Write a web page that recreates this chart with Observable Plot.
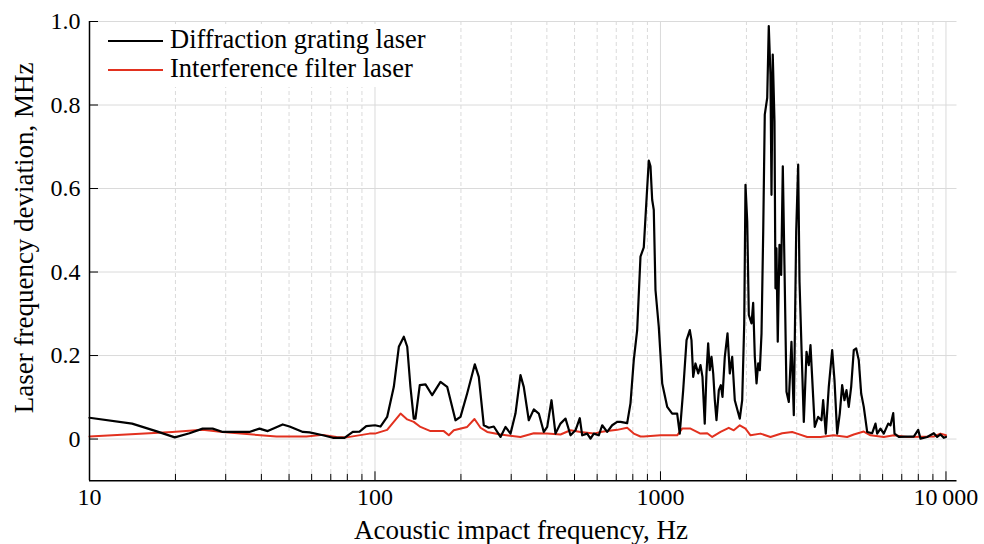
<!DOCTYPE html>
<html>
<head>
<meta charset="utf-8">
<script src="https://cdn.jsdelivr.net/npm/d3@7"></script>
<script src="https://cdn.jsdelivr.net/npm/@observablehq/plot@0.6"></script>
<style>
  body { margin: 0; background: #fff; }
  #wrap { position: relative; width: 984px; height: 544px; font-family: "Liberation Serif", "Times New Roman", serif; }
  #chart svg, #chart svg text { font-family: "Liberation Serif", "Times New Roman", serif !important; }
  #legend { position: absolute; left: 92px; top: 24px; width: 342px; height: 63px; background: #fff; }
  #legend .sw { position: absolute; left: 16px; width: 55px; height: 0; border-top: 2px solid #000; }
  #legend .tx { position: absolute; left: 78px; font-size: 26.5px; line-height: 1; white-space: nowrap; color: #000; }
</style>
</head>
<body>
<div id="wrap">
  <div id="chart"></div>
  <div id="legend"></div>
</div>
<script>
// ---- data ----
const seriesNames = ["Diffraction grating laser", "Interference filter laser"];
const seriesColors = ["#000000", "#e2311f"];

const gratingHz = [
  10, 14.1, 17.1, 19.9, 22.4, 24.9, 27.0, 29.3, 36.3, 39.4,
  42.1, 47.5, 50.2, 55.9, 59.0, 65.7, 71.2, 78.2, 83.6, 88.3,
  93.2, 100, 104.5, 110.3, 116.4, 121.2, 126.2, 129.7, 133.1, 136.7,
  138.6, 143.5, 150.3, 158.6, 169.6, 179.0, 191.4, 199.3, 210.3, 223.7,
  231.0, 240.5, 250.4, 260.7, 275.2, 286.5, 298.3, 310.5, 323.3, 332.0,
  345.7, 360.0, 374.8, 390.2, 401.1, 415.2, 428.8, 446.4, 464.9, 484.0,
  503.9, 521.6, 531.8, 553.7, 568.7, 584.0, 608.0, 624.9, 650.6, 677.3,
  705.1, 724.2, 764.4, 785.0, 806.2, 828.6, 851.0, 874.0, 893.3, 910.0,
  922.6, 935.2, 947.3, 960.5, 986.3, 1014, 1056, 1099, 1144, 1168,
  1201, 1234, 1267, 1284, 1302, 1326, 1356, 1381, 1403, 1429,
  1449, 1469, 1488, 1509, 1530, 1550, 1571, 1601, 1627, 1649,
  1680, 1717, 1749, 1783, 1821, 1861, 1896, 1933, 1965, 1985,
  2013, 2039, 2084, 2112, 2140, 2170, 2199, 2228, 2259, 2290,
  2319, 2365, 2395, 2428, 2448, 2473, 2508, 2528, 2548, 2575,
  2611, 2647, 2682, 2718, 2763, 2815, 2876, 2931, 2988, 3036,
  3069, 3119, 3177, 3247, 3307, 3353, 3426, 3470, 3567, 3663,
  3714, 3793, 3886, 3994, 4069, 4158, 4246, 4329, 4410, 4482,
  4565, 4655, 4754, 4847, 4949, 5046, 5153, 5297, 5515, 5664,
  5741, 5897, 6056, 6275, 6393, 6534, 6603, 6836, 7313, 7713,
  7992, 8142, 8594, 9064, 9315, 9565, 9824, 10000
];
const gratingMHz = [
  0.051, 0.037, 0.019, 0.004, 0.014, 0.025, 0.025, 0.017, 0.017, 0.025,
  0.019, 0.035, 0.030, 0.017, 0.016, 0.009, 0.003, 0.003, 0.017, 0.018,
  0.031, 0.033, 0.030, 0.053, 0.125, 0.221, 0.245, 0.221, 0.125, 0.049,
  0.049, 0.129, 0.131, 0.105, 0.137, 0.125, 0.045, 0.053, 0.109, 0.179,
  0.149, 0.033, 0.027, 0.030, 0.005, 0.029, 0.013, 0.061, 0.153, 0.125,
  0.045, 0.071, 0.061, 0.017, 0.029, 0.093, 0.013, 0.037, 0.049, 0.009,
  0.021, 0.050, 0.009, 0.013, 0.001, 0.013, 0.009, 0.033, 0.017, 0.033,
  0.041, 0.041, 0.038, 0.085, 0.189, 0.261, 0.437, 0.459, 0.573, 0.667,
  0.653, 0.573, 0.549, 0.357, 0.269, 0.133, 0.077, 0.061, 0.061, 0.013,
  0.117, 0.237, 0.261, 0.237, 0.149, 0.181, 0.157, 0.177, 0.149, 0.037,
  0.157, 0.229, 0.165, 0.197, 0.157, 0.093, 0.045, 0.117, 0.129, 0.101,
  0.197, 0.253, 0.157, 0.197, 0.093, 0.069, 0.049, 0.093, 0.277, 0.609,
  0.521, 0.297, 0.277, 0.326, 0.197, 0.133, 0.181, 0.165, 0.253, 0.497,
  0.777, 0.817, 0.989, 0.873, 0.585, 0.921, 0.761, 0.361, 0.457, 0.233,
  0.465, 0.393, 0.653, 0.417, 0.113, 0.089, 0.233, 0.057, 0.497, 0.657,
  0.377, 0.217, 0.041, 0.209, 0.177, 0.225, 0.101, 0.029, 0.053, 0.045,
  0.093, 0.013, 0.125, 0.213, 0.141, 0.013, 0.061, 0.129, 0.093, 0.117,
  0.077, 0.125, 0.213, 0.217, 0.189, 0.109, 0.077, 0.017, 0.014, 0.037,
  0.013, 0.025, 0.013, 0.037, 0.033, 0.062, 0.013, 0.005, 0.006, 0.006,
  0.022, 0.001, 0.005, 0.014, 0.005, 0.011, 0.003, 0.005
];

const filterHz = [
  10, 19.5, 24.9, 29.2, 45.2, 57.5, 65.6, 73.3, 79.5, 95.7,
  100, 110.3, 122.9, 129.7, 136.7, 144.3, 156.5, 174.2, 181.4, 188.8,
  210.3, 223.1, 234.2, 247.2, 275.2, 323.3, 360.0, 401.1, 446.4, 484.0,
  524.7, 584.0, 616.5, 650.6, 705.1, 764.4, 806.2, 851.0, 874.0, 1000,
  1144, 1191, 1274, 1380, 1458, 1518, 1623, 1734, 1806, 1896,
  1985, 2067, 2240, 2428, 2669, 2892, 3011, 3265, 3634, 4046,
  4507, 4754, 5153, 5441, 6056, 6567, 7313, 9064, 9565, 10000
];
const filterMHz = [
  0.006, 0.017, 0.022, 0.017, 0.006, 0.006, 0.010, 0.005, 0.004, 0.013,
  0.013, 0.022, 0.061, 0.047, 0.041, 0.029, 0.019, 0.019, 0.009, 0.021,
  0.029, 0.048, 0.027, 0.017, 0.011, 0.005, 0.014, 0.013, 0.011, 0.021,
  0.017, 0.013, 0.017, 0.019, 0.022, 0.027, 0.013, 0.006, 0.006, 0.009,
  0.009, 0.025, 0.025, 0.013, 0.014, 0.005, 0.017, 0.027, 0.021, 0.033,
  0.025, 0.009, 0.013, 0.005, 0.014, 0.017, 0.013, 0.005, 0.005, 0.009,
  0.005, 0.011, 0.018, 0.009, 0.005, 0.009, 0.005, 0.006, 0.013, 0.009
];

const yTicks = [0, 0.2, 0.4, 0.6, 0.8, 1.0];
const yTickLabels = ["0", "0.2", "0.4", "0.6", "0.8", "1.0"];
const xMajor = [10, 100, 1000, 10000];
const xMajorLabels = ["10", "100", "1000", "10\u2009000"];
const xMinor = [20, 30, 40, 50, 60, 70, 80, 90, 200, 300, 400, 500, 600, 700, 800, 900,
                2000, 3000, 4000, 5000, 6000, 7000, 8000, 9000];
const xTitle = "Acoustic impact frequency, Hz";
const yTitle = "Laser frequency deviation, MHz";

// ---- build tables ----
const grating = gratingHz.map((f, i) => ({f, v: gratingMHz[i]}));
const filter = filterHz.map((f, i) => ({f, v: filterMHz[i]}));
const yLab = new Map(yTicks.map((d, i) => [d, yTickLabels[i]]));
const xLab = new Map(xMajor.map((d, i) => [d, xMajorLabels[i]]));

const serif = "'Liberation Serif', 'Times New Roman', serif";
const gridColor = "#dadada";

const chart = Plot.plot({
  width: 984,
  height: 544,
  marginLeft: 89,
  marginRight: 27.5,
  marginTop: 21,
  marginBottom: 63.7,
  style: {fontFamily: serif, background: "#fff", color: "#000", overflow: "visible"},
  x: {type: "log", domain: [10, 10930]},
  y: {domain: [-0.1, 1.0]},
  marks: [
    Plot.ruleY(yTicks, {stroke: gridColor, strokeWidth: 1}),
    Plot.ruleX(xMinor, {stroke: gridColor, strokeWidth: 1, strokeDasharray: "4,3"}),
    Plot.ruleX(xMajor.slice(1), {stroke: gridColor, strokeWidth: 1}),
    Plot.line(filter, {x: "f", y: "v", stroke: seriesColors[1], strokeWidth: 2}),
    Plot.line(grating, {x: "f", y: "v", stroke: seriesColors[0], strokeWidth: 2.2}),
    Plot.ruleX([10], {stroke: "#000", strokeWidth: 1.5}),
    Plot.ruleY([-0.1], {stroke: "#000", strokeWidth: 1.5}),
    Plot.axisY(yTicks, {anchor: "left", tickSize: -9, tickPadding: 18, tickFormat: d => yLab.get(d), fontSize: 24, fontFamily: serif, label: null}),
    Plot.axisX(xMajor, {anchor: "bottom", tickSize: -9, tickPadding: 16.5, tickFormat: d => xLab.get(d), fontSize: 24, fontFamily: serif, label: null}),
    Plot.axisX(xMinor, {anchor: "bottom", tickSize: -6.5, fill: "none", tickFormat: () => "", label: null}),
    Plot.text([xTitle], {frameAnchor: "bottom", textAnchor: "middle", lineAnchor: "bottom", dy: 58.2, dx: -2.2, fontSize: 27, fontFamily: serif}),
    Plot.text([yTitle], {frameAnchor: "left", textAnchor: "middle", rotate: -90, lineAnchor: "middle", dx: -65.3, dy: -13.3, fontSize: 27, fontFamily: serif})
  ]
});
document.getElementById("chart").appendChild(chart);

// ---- legend ----
const legend = document.getElementById("legend");
const rowTops = [16, 45];
const textTops = [2.3, 31.3];
seriesNames.forEach((name, i) => {
  const sw = document.createElement("div");
  sw.className = "sw";
  sw.style.top = rowTops[i] + "px";
  sw.style.borderTopColor = seriesColors[i];
  legend.appendChild(sw);
  const tx = document.createElement("div");
  tx.className = "tx";
  tx.style.top = textTops[i] + "px";
  tx.textContent = name;
  legend.appendChild(tx);
});
</script>
</body>
</html>
